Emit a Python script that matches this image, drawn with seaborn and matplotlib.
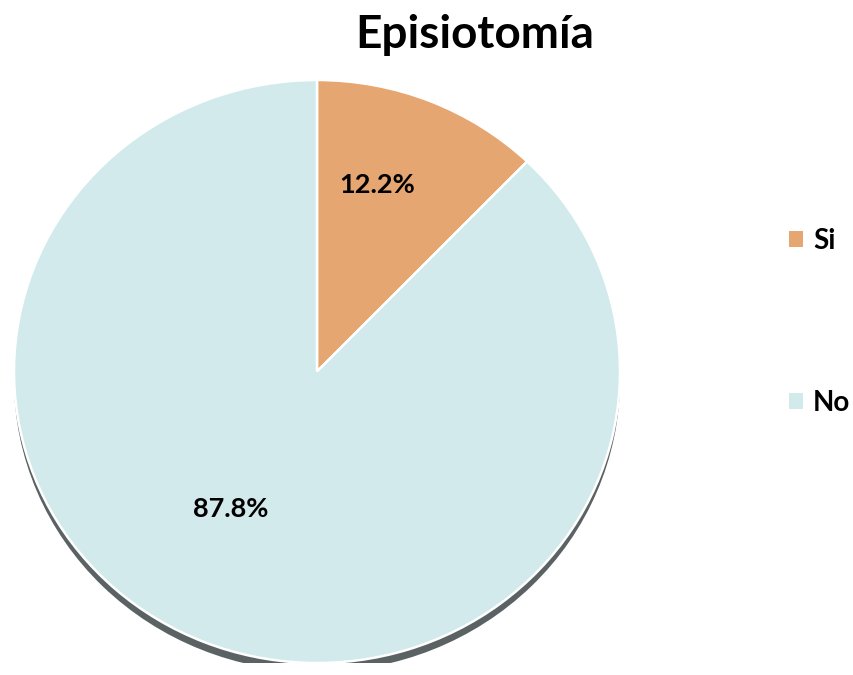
import matplotlib
matplotlib.use("Agg")
import matplotlib.pyplot as plt
import seaborn as sns
from matplotlib.patches import Ellipse

sns.set_theme(style="white")
plt.rcParams['font.family'] = ['Lato', 'DejaVu Sans']
plt.rcParams['text.color'] = 'black'

categories = ["Si", "No"]
values = [12.2, 87.8]
colors = ["#E6A672", "#D2EAEC"]
title = "Episiotomía"

W, H = 854, 675
fig = plt.figure(figsize=(W / 100, H / 100), dpi=100)
fig.patch.set_facecolor("white")

# pie axes in pixel box
x0, x1 = 14, 620
y0, y1 = 80, 663
ax = fig.add_axes([x0 / W, (H - y1) / H, (x1 - x0) / W, (y1 - y0) / H])

# shadow
sh = Ellipse((0.0, -0.03), 2.0, 2.0, facecolor="#5B6264", edgecolor="none", zorder=0)
ax.add_patch(sh)

wedges, texts, autotexts = ax.pie(
    values, colors=colors, startangle=90, counterclock=False,
    autopct="%1.1f%%", pctdistance=0.65, radius=1.0,
    wedgeprops=dict(edgecolor="white", linewidth=1.8),
    textprops=dict(fontsize=19.5, fontweight="bold", color="black"),
)
for w in wedges:
    w.set_zorder(2)
autotexts[0].set_position((0.20, 0.64))
autotexts[1].set_position((-0.285, -0.47))
for t in autotexts:
    t.set_zorder(3)

ax.set_aspect("auto")
ax.set_xlim(-1, 1)
ax.set_ylim(-1, 1)
ax.axis("off")

fig.text(475 / W, 1 - 35 / H, title, ha="center", va="center",
         fontsize=33, fontweight="bold", color="black")

leg = fig.legend(wedges, categories, loc="center left",
                 bbox_to_anchor=(770 / W, 1 - 322 / H),
                 frameon=False, handlelength=0.5, handleheight=0.5,
                 handletextpad=0.35, labelspacing=4.9, borderpad=0.2,
                 labelcolor="black",
                 prop=dict(size=20, weight="bold"))
for h in leg.legend_handles:
    h.set_edgecolor("none")

fig.savefig("out.png", dpi=100)
